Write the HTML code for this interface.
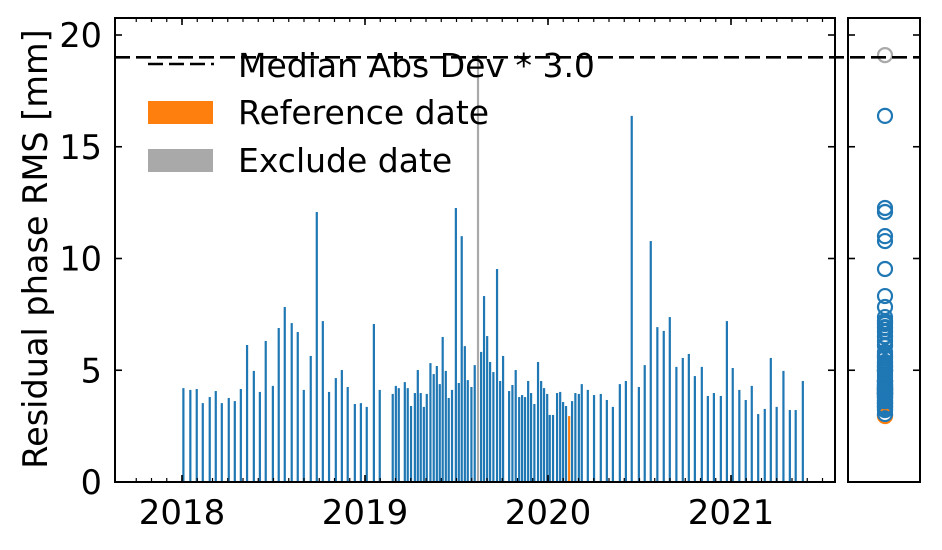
<!DOCTYPE html>
<html><head><meta charset="utf-8"><style>
body{margin:0;background:#fff}
svg text{font-family:"DejaVu Sans","Liberation Sans",sans-serif;fill:#000}
</style></head><body>
<svg id="chart" width="942" height="545" xmlns="http://www.w3.org/2000/svg">
<g id="bars"></g>
<g id="pts"></g>
<g id="axes"></g>
</svg>
<script>
const dates=[2018.007,2018.045,2018.080,2018.113,2018.151,2018.184,2018.217,2018.255,2018.288,2018.321,2018.355,2018.392,2018.425,2018.457,2018.496,2018.528,2018.561,2018.599,2018.632,2018.665,2018.703,2018.736,2018.769,2018.803,2018.840,2018.873,2018.905,2018.944,2018.977,2019.009,2019.048,2019.080,2019.151,2019.168,2019.184,2019.217,2019.233,2019.251,2019.272,2019.288,2019.304,2019.321,2019.337,2019.357,2019.375,2019.392,2019.408,2019.424,2019.441,2019.457,2019.475,2019.496,2019.512,2019.528,2019.545,2019.561,2019.581,2019.599,2019.617,2019.634,2019.650,2019.667,2019.683,2019.701,2019.721,2019.738,2019.754,2019.787,2019.805,2019.823,2019.842,2019.858,2019.874,2019.891,2019.907,2019.925,2019.945,2019.962,2019.978,2019.995,2020.009,2020.027,2020.049,2020.066,2020.082,2020.098,2020.115,2020.131,2020.149,2020.168,2020.184,2020.217,2020.251,2020.288,2020.321,2020.354,2020.392,2020.425,2020.457,2020.496,2020.528,2020.561,2020.597,2020.632,2020.665,2020.701,2020.736,2020.769,2020.802,2020.840,2020.873,2020.906,2020.944,2020.977,2021.009,2021.045,2021.080,2021.113,2021.148,2021.184,2021.217,2021.249,2021.286,2021.321,2021.353,2021.392];
const rms=[4.2,4.12,4.16,3.53,3.8,4.07,3.53,3.76,3.62,4.16,6.13,4.97,4.03,6.31,4.3,6.89,7.83,7.11,6.71,4.12,5.64,12.08,7.2,4.03,4.65,5.01,4.25,3.49,3.53,3.36,7.07,4.12,3.94,4.3,4.2,4.47,4.2,3.4,3.98,5.01,3.98,3.36,3.94,5.32,4.83,5.19,4.38,6.49,4.97,3.76,4.12,12.26,4.43,11.0,6.08,4.56,4.25,5.23,19.1,5.82,8.32,6.53,5.37,4.92,9.53,4.52,5.64,4.07,4.34,5.01,3.8,3.89,3.8,4.52,3.98,3.49,5.37,4.52,4.2,3.94,3.0,3.0,3.98,4.03,3.58,3.4,2.95,3.62,3.98,3.94,4.38,4.12,3.89,3.94,3.67,3.36,4.38,4.52,16.38,4.25,5.23,10.78,6.93,6.76,7.38,5.15,5.55,5.73,4.74,5.15,3.85,3.98,3.85,7.2,5.1,4.12,3.67,4.3,3.04,3.27,5.55,3.36,4.97,3.22,3.22,4.52];
const refDate=2020.115;
const excludeDates=[2019.617];
const threshold=19.0;
const yTicks=[0,5,10,15,20];
const xTicks=[2018,2019,2020,2021];
const NS="http://www.w3.org/2000/svg";
const L=115,R=835,T=18,B=482,R2L=848,R2R=920;
const X=d=>182+(d-2018)*183;
const Y=v=>B-v*22.35;
function el(tag,attrs,parent,text){const e=document.createElementNS(NS,tag);for(const k in attrs)e.setAttribute(k,attrs[k]);if(text!==undefined)e.textContent=text;parent.appendChild(e);return e;}
const gb=document.getElementById('bars'),gp=document.getElementById('pts'),ga=document.getElementById('axes');
function colorOf(d){return Math.abs(d-refDate)<1e-6?'#ff7f0e':(excludeDates.some(e=>Math.abs(e-d)<1e-6)?'#a9a9a9':'#1f77b4');}
dates.forEach((d,i)=>{
  const b=el('rect',{x:X(d)-1,y:Y(rms[i]),width:2.2,height:B-Y(rms[i]),fill:colorOf(d)},gb);
  
  
});
dates.forEach((d,i)=>{
  const p=el('circle',{cx:885,cy:Y(rms[i]),r:7,fill:'none',stroke:colorOf(d),'stroke-width':2.2},gp);
  
  
});
const th=el('line',{x1:L,x2:R2R,y1:Y(threshold),y2:Y(threshold),stroke:'#000','stroke-width':2.6,'stroke-dasharray':'15,6'},ga);


const f1=el('rect',{x:L,y:T,width:R-L,height:B-T,fill:'none',stroke:'#000','stroke-width':2},ga);


const f2=el('rect',{x:R2L,y:T,width:R2R-R2L,height:B-T,fill:'none',stroke:'#000','stroke-width':2},ga);


yTicks.forEach(v=>{
  const y=Y(v);
  [[L,L+7],[R,R-7],[R2L,R2L+7],[R2R,R2R-7]].forEach(p=>el('line',{x1:p[0],x2:p[1],y1:y,y2:y,stroke:'#000','stroke-width':1.6},ga));
  const t=el('text',{x:102,y:y+12,'text-anchor':'end','font-size':33.5},ga,String(v));
  
  
});
xTicks.forEach(yr=>{
  const x=X(yr);
  el('line',{x1:x,x2:x,y1:B,y2:B-7,stroke:'#000','stroke-width':1.6},ga);
  el('line',{x1:x,x2:x,y1:T,y2:T+7,stroke:'#000','stroke-width':1.6},ga);
  const t=el('text',{x:x,y:524,'text-anchor':'middle','font-size':34},ga,String(yr));
  
  
});
for(let m=2017.75;m<2021.6;m+=1/12){const x=X(m);if(x>L&&x<R){el('line',{x1:x,x2:x,y1:B,y2:B-4,stroke:'#000','stroke-width':1.2},ga);el('line',{x1:x,x2:x,y1:T,y2:T+4,stroke:'#000','stroke-width':1.2},ga);}}
const yl=el('text',{x:0,y:0,transform:'translate(47,249) rotate(-90)','text-anchor':'middle','font-size':33.5},ga,'Residual phase RMS [mm]');


const lg=el('g',{},ga);


el('line',{x1:148,x2:214,y1:64,y2:64,stroke:'#000','stroke-width':2.6,'stroke-dasharray':'15,6'},lg);
const t1=el('text',{x:238,y:77,'font-size':33},lg,'Median Abs Dev * 3.0');


el('rect',{x:148,y:101,width:65,height:23,fill:'#ff7f0e'},lg);
const t2=el('text',{x:238,y:124,'font-size':33},lg,'Reference date');


el('rect',{x:148,y:149,width:65,height:23,fill:'#a9a9a9'},lg);
const t3=el('text',{x:238,y:172,'font-size':33},lg,'Exclude date');


</script>
</body></html>
